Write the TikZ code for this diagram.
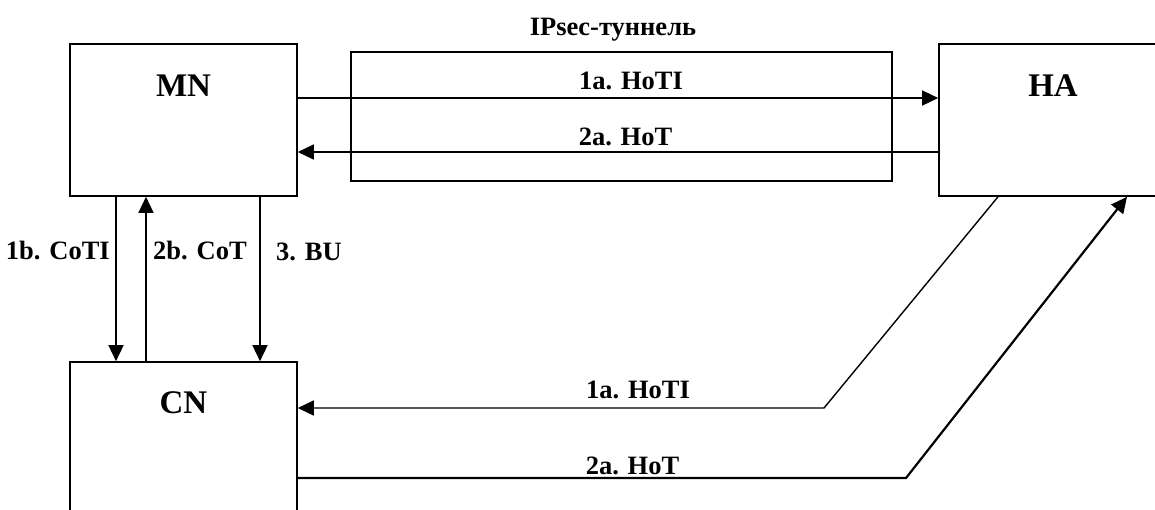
\documentclass[tikz,border=0pt]{standalone}
\usepackage{fontspec}
\setmainfont{Liberation Serif}
\usetikzlibrary{arrows.meta}
\begin{document}
\begin{tikzpicture}[x=1pt,y=-1pt,
  box/.style={draw, line width=1.6pt, inner sep=0pt},
  conn/.style={line width=1.4pt},
  arr/.style={conn, -{Triangle[length=16pt,width=15pt]}},
  lbl/.style={font=\bfseries\fontsize{26.5}{30}\selectfont, inner sep=0pt},
  big/.style={font=\bfseries\fontsize{33}{38}\selectfont, inner sep=0pt}]
\useasboundingbox (0,0) rectangle (1155,509);
\fill[white] (0,0) rectangle (1155,509);
% boxes
\node[box, minimum width=227pt, minimum height=152pt] (mn) at (183.5,120) {};
\node[box, minimum width=231pt, minimum height=152pt] (ha) at (1054.5,120) {};
\node[box, minimum width=227pt, minimum height=170pt] (cn) at (183.5,447) {};
\node[box, minimum width=541pt, minimum height=129pt] (tun) at (621.5,116.5) {};
% box texts
\node[big, anchor=base] (mnt) at (183.5,96) {MN};
\node[big, anchor=base] (hat) at (1053,96) {HA};
\node[big, anchor=base] (cnt) at (183.5,413) {CN};
\node[lbl, anchor=base] (ipsec) at (613,35) {IPsec-туннель};
% helper coordinates
\coordinate (y1) at (0,98);
\coordinate (y2) at (0,152);
\coordinate (xa) at (116,0);
\coordinate (xb) at (146,0);
\coordinate (xc) at (260,0);
\coordinate (c1) at (998,0);
\coordinate (c2) at (1127,0);
\coordinate (k1) at (824,408);
\coordinate (k2) at (906,478);
% top arrows
\draw[arr] (mn.east |- y1) -- (ha.west |- y1);
\draw[arr] (ha.west |- y2) -- (mn.east |- y2);
\node[lbl, anchor=base] (l1a) at (631,89) {1a. HoTI};
\node[lbl, anchor=base] (l2a) at (625.5,145) {2a. HoT};
% vertical arrows
\draw[arr] (mn.south -| xa) -- (cn.north -| xa);
\draw[arr] (cn.north -| xb) -- (mn.south -| xb);
\draw[arr] (mn.south -| xc) -- (cn.north -| xc);
\node[lbl, anchor=base east] (l1b) at (110,259) {1b. CoTI};
\node[lbl, anchor=base west] (l2b) at (153,259) {2b. CoT};
\node[lbl, anchor=base west] (l3) at (276,260) {3. BU};
% bottom arrows
\draw[arr] (ha.south -| c1) -- (k1) -- (cn.east |- k1);
\draw[arr, line width=2.2pt] (cn.east |- k2) -- (k2) -- (ha.south -| c2);
\node[lbl, anchor=base] (l1a2) at (638,398) {1a. HoTI};
\node[lbl, anchor=base] (l2a2) at (632.5,474) {2a. HoT};
\end{tikzpicture}
\end{document}
